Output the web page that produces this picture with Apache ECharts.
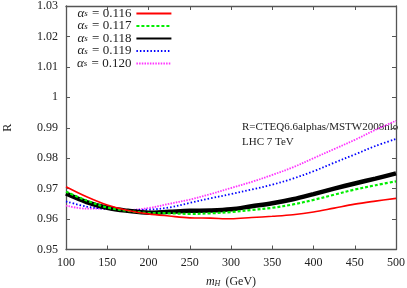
<!DOCTYPE html>
<html><head><meta charset="utf-8">
<script src="https://cdn.jsdelivr.net/npm/echarts@6/dist/echarts.min.js"></script>
<style>html,body{margin:0;padding:0;background:#fff}#c{width:407px;height:288px}</style>
</head><body><div id="c"></div>
<script>
var mH = [100,125,150,175,200,225,250,275,300,325,350,375,400,425,450,475,500];
var alphaLabels = ['0.116','0.117','0.118','0.119','0.120'];
var r116 = [0.9706,0.9673,0.9646,0.9628,0.9617,0.9610,0.9604,0.9603,0.9601,0.9605,0.9609,0.9614,0.9623,0.9636,0.9649,0.9659,0.9668];
var r117 = [0.9690,0.9661,0.9638,0.9627,0.9620,0.9619,0.9617,0.9619,0.9623,0.9630,0.9637,0.9648,0.9663,0.9680,0.9697,0.9711,0.9724];
var r118 = [0.9684,0.9656,0.9637,0.9627,0.9621,0.9624,0.9627,0.9628,0.9632,0.9642,0.9652,0.9665,0.9682,0.9700,0.9717,0.9733,0.9750];
var r119 = [0.9658,0.9641,0.9633,0.9630,0.9631,0.9638,0.9653,0.9668,0.9682,0.9697,0.9713,0.9733,0.9757,0.9785,0.9812,0.9840,0.9863];
var r120 = [0.9644,0.9634,0.9634,0.9630,0.9636,0.9650,0.9664,0.9682,0.9702,0.9722,0.9745,0.9770,0.9800,0.9830,0.9860,0.9893,0.9923];
var xTicks = [100,150,200,250,300,350,400,450,500];
var yTicks = [0.95,0.96,0.97,0.98,0.99,1.00,1.01,1.02,1.03];

var FONT = 'Liberation Serif';
var allData = [r116,r117,r118,r119,r120];
var styles = [
  {color:'#ff0000', width:1.6, type:'solid'},
  {color:'#00ee00', width:2.2, type:[3,2]},
  {color:'#000000', width:4.5, type:'solid'},
  {color:'#0000ff', width:1.8, type:[1.5,2]},
  {color:'#ff33ff', width:1.8, type:[1.5,1.2]}
];
var series = allData.map(function(d,i){
  return {
    name: 'a' + alphaLabels[i],
    type:'line',
    data: d.map(function(v,j){return [mH[j], v];}),
    showSymbol:false, symbol:'none', smooth:0.35,
    lineStyle:{color:styles[i].color, width:styles[i].width, type:styles[i].type},
    itemStyle:{color:styles[i].color},
    z: 5 - i
  };
});
var chart = echarts.init(document.getElementById('c'), null, {renderer:'canvas'});
var axisCommon = {
  axisLine:{show:true, lineStyle:{color:'#555', width:1.3}},
  axisTick:{show:true, inside:true, length:4, lineStyle:{color:'#555'}},
  splitLine:{show:false}
};
chart.setOption({
  animation:false,
  backgroundColor:'#fff',
  grid:{left:66, right:11, top:6, bottom:38.5, containLabel:false, outerBoundsMode:'none'},
  legend:{
    orient:'vertical', left:77, top:7, align:'right',
    itemWidth:35, itemHeight:10, itemGap:-0.5, padding:0,
    itemStyle:{opacity:0},
    data: series.map(function(s){return s.name;}),
    formatter:function(n){ return '{g|α}{s|s}{t| = ' + n.slice(1) + '}'; },
    textStyle:{
      fontFamily:FONT, fontSize:13, color:'#222', lineHeight:10,
      rich:{
        g:{fontFamily:FONT, fontStyle:'italic', fontSize:13, color:'#222', lineHeight:10},
        s:{fontFamily:FONT, fontStyle:'italic', fontSize:9, color:'#222', lineHeight:3, verticalAlign:'bottom', padding:[0,1,0,0]},
        t:{fontFamily:FONT, fontSize:13, color:'#222', lineHeight:10}
      }
    }
  },
  xAxis:[Object.assign({
    type:'value', min:100, max:500, interval:50, position:'bottom',
    axisLabel:{fontFamily:FONT, fontSize:12, color:'#222', margin:7},
    name:'{m|m}{h|H} (GeV)', nameLocation:'middle', nameGap:26,
    nameTextStyle:{fontFamily:FONT, fontSize:12, color:'#222', lineHeight:12,
      rich:{m:{fontFamily:FONT, fontStyle:'italic', fontSize:12, color:'#222', lineHeight:12},
            h:{fontFamily:FONT, fontStyle:'italic', fontSize:8, color:'#222', lineHeight:3, verticalAlign:'bottom', padding:[0,2,0,0]}}}
  }, axisCommon), Object.assign({
    type:'value', min:100, max:500, interval:50, position:'top',
    axisLabel:{show:false}
  }, axisCommon)],
  yAxis:[Object.assign({
    type:'value', min:0.95, max:1.03, interval:0.01, position:'left',
    axisLabel:{fontFamily:FONT, fontSize:12, color:'#222', margin:8,
      formatter:function(v){return String(+v.toFixed(2));}},
    name:'R', nameLocation:'middle', nameGap:52, nameRotate:90,
    nameTextStyle:{fontFamily:FONT, fontSize:12, color:'#222'}
  }, axisCommon), Object.assign({
    type:'value', min:0.95, max:1.03, interval:0.01, position:'right',
    axisLabel:{show:false}
  }, axisCommon)],
  graphic:[
    {type:'text', left:242, top:122, style:{text:'R=CTEQ6.6alphas/MSTW2008nlo', font:'11px "Liberation Serif"', fill:'#222'}},
    {type:'text', left:242, top:137, style:{text:'LHC 7 TeV', font:'11px "Liberation Serif"', fill:'#222'}}
  ],
  series: series
});
</script></body></html>
